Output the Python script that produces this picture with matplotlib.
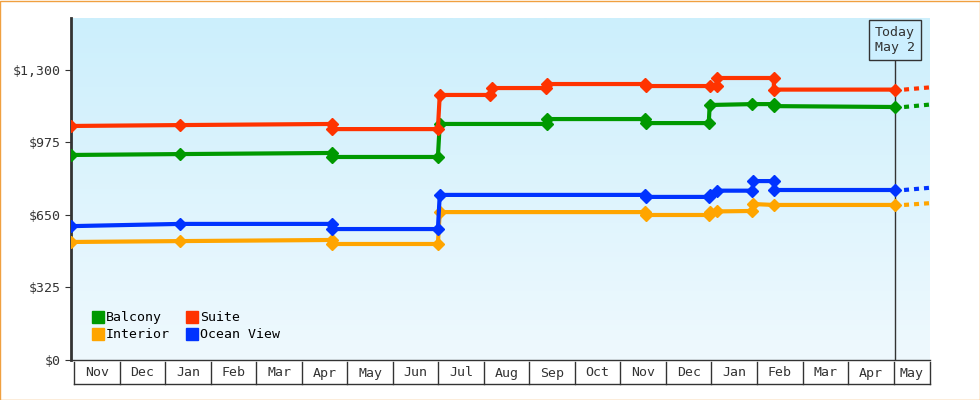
import matplotlib
matplotlib.use("Agg")
import matplotlib.pyplot as plt
import numpy as np
from matplotlib.transforms import blended_transform_factory

months = ["Nov","Dec","Jan","Feb","Mar","Apr","May","Jun","Jul","Aug","Sep","Oct","Nov","Dec","Jan","Feb","Mar","Apr","May"]
# x positions in months since first Nov 1
suite_x = [-0.07, 2.33, 5.66, 5.66, 7.99, 8.03, 9.13, 9.18, 10.36, 10.38, 12.53, 12.56, 13.96, 14.11, 14.13, 15.37, 15.37, 18.03]
suite_y = [1049, 1053, 1058, 1035, 1035, 1188, 1188, 1219, 1219, 1237, 1237, 1228, 1228, 1228, 1264, 1264, 1212, 1212]
balc_x = [-0.07, 2.33, 5.66, 5.66, 7.99, 8.03, 10.38, 10.38, 12.53, 12.56, 13.94, 13.96, 14.9, 15.37, 15.37, 18.03]
balc_y = [919, 923, 928, 910, 910, 1058, 1058, 1080, 1080, 1062, 1062, 1143, 1147, 1147, 1138, 1134]
ocean_x = [-0.07, 2.33, 5.66, 5.66, 7.99, 8.03, 12.53, 12.56, 13.94, 13.96, 14.11, 14.9, 14.92, 15.37, 15.37, 18.03]
ocean_y = [600, 610, 610, 587, 587, 740, 740, 731, 731, 740, 759, 759, 802, 802, 762, 762]
inter_x = [-0.07, 2.33, 5.66, 5.66, 7.99, 8.03, 12.53, 12.56, 13.94, 13.96, 14.11, 14.9, 14.92, 15.37, 18.03]
inter_y = [529, 533, 538, 520, 520, 663, 663, 650, 650, 663, 666, 668, 699, 695, 695]
future_y = {"Suite": 1222, "Balcony": 1145, "Ocean View": 772, "Interior": 703}
yticks = [0, 325, 650, 975, 1300]
today = 18.03

fig = plt.figure(figsize=(9.8, 4.0), dpi=100)
fig.patch.set_facecolor("white")
fig.patches.append(plt.Rectangle((0.0005, 0.001), 0.999, 0.997, transform=fig.transFigure,
                                  fill=False, edgecolor="#f0a040", lw=1))
ax = fig.add_axes([71/980, 40/400, 859/980, 342/400])
xmin, xmax = -0.07, 18.8
ymax = (360-18)/0.2231
ax.set_xlim(xmin, xmax); ax.set_ylim(0, ymax)
grad = np.linspace(0, 1, 256).reshape(-1, 1)
from matplotlib.colors import LinearSegmentedColormap
cm = LinearSegmentedColormap.from_list("bg", ["#eff9fe", "#cceffc"])
ax.imshow(grad, extent=[xmin, xmax, 0, ymax], origin="lower", aspect="auto", cmap=cm, zorder=0)

font = "DejaVu Sans Mono"
series = [("Balcony", balc_x, balc_y, "#009900"),
          ("Suite", suite_x, suite_y, "#ff3300"),
          ("Interior", inter_x, inter_y, "#ffa500"),
          ("Ocean View", ocean_x, ocean_y, "#0033ff")]
for name, xs, ys, c in series:
    ax.plot(xs, ys, color=c, lw=3, marker="D", ms=6, zorder=3)
    ax.plot([today+0.2, xmax], [ys[-1], future_y[name]], color=c, lw=3, ls=(0, (1.2, 1.2)), zorder=3)

ax.axvline(today, ymin=0, ymax=(360-61)/342, color="#333333", lw=1, zorder=2)
ax.text(today, (360-40)/0.2231, "Today\nMay 2", ha="center", va="center", family=font, fontsize=9.5,
        color="#333333", bbox=dict(boxstyle="square,pad=0.45", fc="#ccefff", ec="#333333", lw=1), zorder=5)

for s in ["top", "right"]:
    ax.spines[s].set_visible(False)
ax.spines["left"].set_color("#333333"); ax.spines["left"].set_linewidth(2)
ax.spines["bottom"].set_color("#333333"); ax.spines["bottom"].set_linewidth(1)
ax.set_yticks(yticks)
ax.set_yticklabels(["$0"] + [f"${v:,}" for v in yticks[1:]], family=font, fontsize=9.5, color="#333333")
ax.tick_params(axis="y", length=4, color="#333333")
ax.set_xticks([])

tr = blended_transform_factory(ax.transData, fig.transFigure)
y_top, y_bot = 1-362/400, 1-384/400
bounds = list(range(0, 19)) + [xmax]
for b in bounds:
    ax.add_line(plt.Line2D([b, b], [y_top, y_bot], transform=tr, color="#333333", lw=1, clip_on=False))
ax.add_line(plt.Line2D([0, xmax], [y_bot, y_bot], transform=tr, color="#333333", lw=1, clip_on=False))
for i, m in enumerate(months):
    right = bounds[i+1]
    ax.text((i+right)/2, (y_top+y_bot)/2, m, transform=tr, ha="center", va="center",
            family=font, fontsize=9.5, color="#333333")

from matplotlib.lines import Line2D
handles = [Line2D([], [], marker="s", ls="", color=c, ms=8) for _, _, _, c in
           [series[0], series[2], series[1], series[3]]]
labels = ["Balcony", "Interior", "Suite", "Ocean View"]
ax.legend(handles, labels, ncol=2, loc="lower left", bbox_to_anchor=(0.01, 0.02), frameon=False,
          prop={"family": font, "size": 9.5}, handletextpad=0.1, columnspacing=1.2, labelspacing=0.3,
          handlelength=1)
fig.savefig("out.png", dpi=100)
